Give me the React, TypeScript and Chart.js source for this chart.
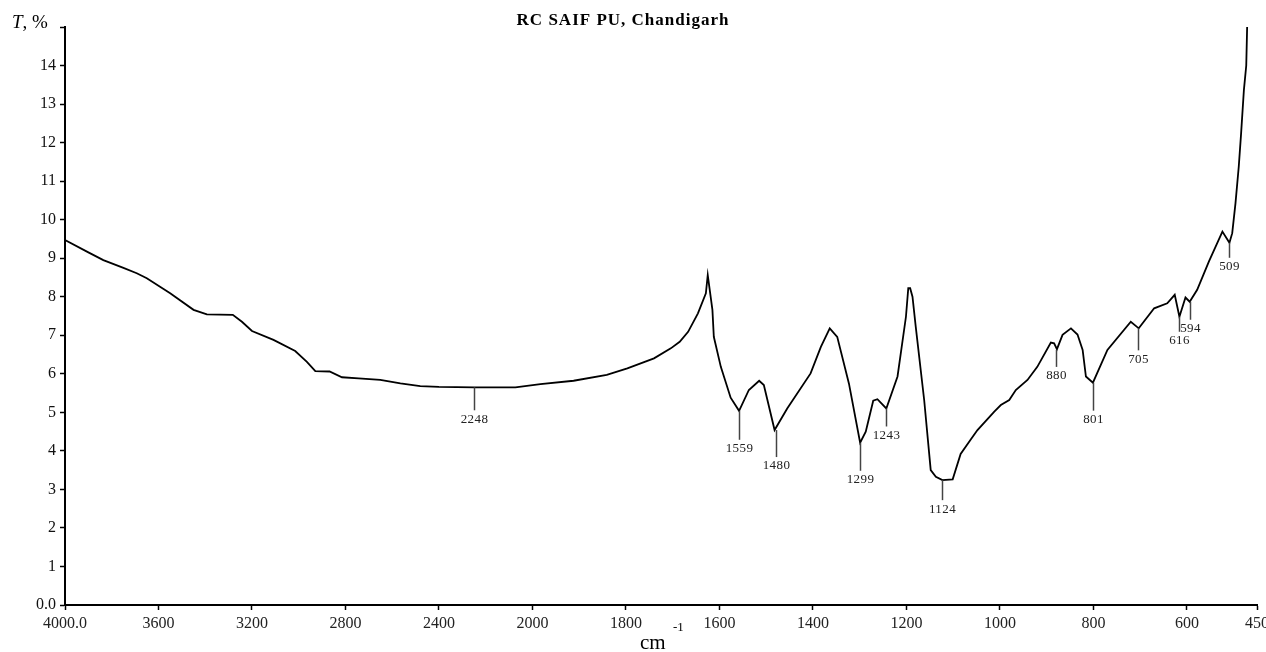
import React, { useEffect, useRef } from "react";
import { Chart, registerables } from "chart.js";

Chart.register(...registerables);

// Spectrum (wavenumber, cm-1) and transmittance (%)
const wavenumbers = [
  4000, 3900, 3836, 3750, 3693, 3650, 3550, 3450, 3393, 3282, 3243, 3200, 3108, 3015, 2965, 2929,
  2868, 2815, 2744, 2651, 2565, 2480, 2400, 2248, 2073, 1983, 1912, 1841, 1797, 1740, 1704, 1685,
  1667, 1646, 1629, 1625, 1615, 1612, 1597, 1576, 1558, 1537, 1515, 1505, 1482, 1455, 1405, 1383,
  1364, 1348, 1323, 1299, 1287, 1271, 1262, 1243, 1219, 1201, 1196, 1192, 1187, 1180, 1162, 1148,
  1137, 1123, 1101, 1084, 1062, 1048, 1012, 998, 980, 966, 941, 920, 891, 884, 878, 866,
  848, 834, 823, 816, 801, 770, 720, 703, 670, 642, 626, 616, 603, 594, 578, 553,
  524, 509, 503, 496, 489, 484, 478, 473, 471,
];
const transmittance = [
  9.47, 9.15, 8.95, 8.75, 8.61, 8.48, 8.09, 7.66, 7.54, 7.53, 7.35, 7.11, 6.88, 6.59, 6.31, 6.07,
  6.06, 5.91, 5.88, 5.84, 5.75, 5.68, 5.66, 5.65, 5.65, 5.73, 5.82, 5.97, 6.14, 6.4, 6.66, 6.83,
  7.09, 7.57, 8.09, 8.56, 7.66, 6.96, 6.18, 5.38, 5.04, 5.58, 5.82, 5.71, 4.54, 5.1, 6.01, 6.7,
  7.18, 6.96, 5.75, 4.21, 4.5, 5.3, 5.34, 5.1, 5.93, 7.48, 8.22, 8.22, 8.0, 7.22, 5.32, 3.5,
  3.33, 3.24, 3.26, 3.92, 4.3, 4.54, 5.02, 5.19, 5.32, 5.58, 5.84, 6.18, 6.81, 6.79, 6.64, 7.01,
  7.18, 7.02, 6.62, 5.93, 5.77, 6.62, 7.35, 7.18, 7.7, 7.83, 8.05, 7.48, 7.98, 7.87, 8.18, 8.91,
  9.69, 9.4, 9.65, 10.43, 11.38, 12.24, 13.37, 14.0, 15.05,
];

// Marked peaks
const peakWavenumbers = [2248, 1559, 1480, 1299, 1243, 1124, 880, 801, 705, 616, 594, 509];
const peakTransmittance = [5.65, 5.04, 4.54, 4.21, 5.1, 3.24, 6.62, 5.77, 7.18, 7.48, 7.87, 9.4];

// Axis ticks
const xTickValues = [4000, 3600, 3200, 2800, 2400, 2000, 1800, 1600, 1400, 1200, 1000, 800, 600, 450];
const xTickLabels = ["4000.0", "3600", "3200", "2800", "2400", "2000", "1800", "1600", "1400", "1200", "1000", "800", "600", "450"];
const yTickValues = [0, 1, 2, 3, 4, 5, 6, 7, 8, 9, 10, 11, 12, 13, 14, 15];
const yTickLabels = ["0.0", "1", "2", "3", "4", "5", "6", "7", "8", "9", "10", "11", "12", "13", "14", ""];

const TITLE = "RC SAIF PU, Chandigarh";

// leader line lengths (px) for the peak marks (style)
const leaderLengths = [23, 29, 27, 28, 18, 20, 17, 28, 22, 15, 18, 15];

const SERIF = '"Liberation Serif", "Times New Roman", serif';

// FTIR axis scale change at 2000 cm-1: 400 cm-1 per unit above, 200 cm-1 per unit below
const toAxis = (w: number) => (w >= 2000 ? (4000 - w) / 400 : 5 + (2000 - w) / 200);

const decorations = {
  id: "decorations",
  afterDraw(chart: any) {
    const ctx = chart.ctx as CanvasRenderingContext2D;
    const xs = chart.scales.x;
    const ys = chart.scales.y;
    ctx.save();
    ctx.fillStyle = "#000";
    // title
    ctx.font = `bold 17px ${SERIF}`;
    (ctx as any).letterSpacing = "1px";
    ctx.textAlign = "center";
    ctx.textBaseline = "alphabetic";
    ctx.fillText(TITLE, 623, 25);
    (ctx as any).letterSpacing = "0px";

    // y-axis label "T, %"
    ctx.textAlign = "left";
    ctx.font = `italic 19px ${SERIF}`;
    ctx.fillText("T", 12, 28);
    const tw = ctx.measureText("T").width;
    ctx.font = `19px ${SERIF}`;
    ctx.fillText(", %", 12 + tw, 28);

    // x-axis label cm^-1
    ctx.font = `21px ${SERIF}`;
    ctx.fillText("cm", 640, 649);
    ctx.font = `13px ${SERIF}`;
    ctx.fillText("-1", 673, 631);

    // peak marks
    ctx.strokeStyle = "#444";
    ctx.lineWidth = 1.5;
    ctx.font = `13px ${SERIF}`;
    ctx.textAlign = "center";
    ctx.textBaseline = "middle";
    (ctx as any).letterSpacing = "0.4px";
    peakWavenumbers.forEach((w, i) => {
      const px = Math.round(xs.getPixelForValue(toAxis(w))) + 0.5;
      const py = ys.getPixelForValue(peakTransmittance[i]);
      const len = leaderLengths[i];
      ctx.beginPath();
      ctx.moveTo(px, py);
      ctx.lineTo(px, py + len);
      ctx.stroke();
      ctx.fillStyle = "#222";
      ctx.fillText(String(w), px, py + len + 9);
    });
    ctx.restore();
  },
};

export default function App() {
  const canvasRef = useRef<HTMLCanvasElement | null>(null);

  useEffect(() => {
    if (!canvasRef.current) return;
    const chart = new Chart(canvasRef.current, {
      type: "line",
      data: {
        datasets: [
          {
            data: wavenumbers.map((w, i) => ({ x: toAxis(w), y: transmittance[i] })),
            borderColor: "#000",
            borderWidth: 1.8,
            pointRadius: 0,
            tension: 0,
            fill: false,
          },
        ],
      },
      options: {
        animation: false,
        responsive: false,
        maintainAspectRatio: false,
        layout: { padding: { left: 0, right: 9, top: 27, bottom: 0 } },
        plugins: {
          legend: { display: false },
          tooltip: { enabled: false },
          title: { display: false },
        },
        scales: {
          x: {
            type: "linear",
            min: 0,
            max: toAxis(450),
            afterBuildTicks: (scale: any) => {
              scale.ticks = xTickValues.map((w) => ({ value: toAxis(w) }));
            },
            afterFit: (scale: any) => {
              scale.height = 47;
              scale.paddingLeft = 0;
              scale.paddingRight = 0;
            },
            ticks: {
              autoSkip: false,
              maxRotation: 0,
              padding: 4,
              color: "#222",
              font: { family: SERIF, size: 16 },
              callback: (_v: any, i: number) => xTickLabels[i],
            },
            grid: {
              drawOnChartArea: false,
              drawTicks: true,
              tickLength: 5,
              tickWidth: 1.5,
              tickColor: "#000",
            },
            border: { display: true, color: "#000", width: 2 },
          },
          y: {
            type: "linear",
            min: 0,
            max: 15,
            afterBuildTicks: (scale: any) => {
              scale.ticks = yTickValues.map((v) => ({ value: v }));
            },
            afterFit: (scale: any) => {
              scale.width = 65;
              scale.paddingTop = 0;
              scale.paddingBottom = 0;
            },
            ticks: {
              autoSkip: false,
              padding: 4,
              color: "#111",
              font: { family: SERIF, size: 16 },
              callback: (_v: any, i: number) => yTickLabels[i],
            },
            grid: {
              drawOnChartArea: false,
              drawTicks: true,
              tickLength: 5,
              tickWidth: 1.5,
              tickColor: "#000",
            },
            border: { display: true, color: "#000", width: 2 },
          },
        },
      },
      plugins: [decorations],
    });
    return () => chart.destroy();
  }, []);

  return (
    <div style={{ position: "absolute", left: 0, top: 0, width: 1266, height: 652, background: "#fff" }}>
      <canvas ref={canvasRef} width={1266} height={652} style={{ display: "block" }} />
    </div>
  );
}
